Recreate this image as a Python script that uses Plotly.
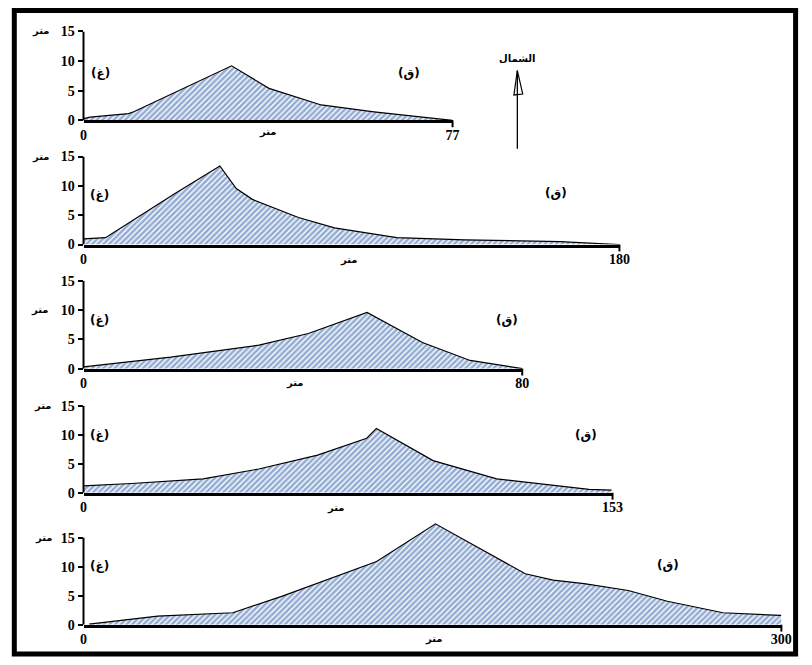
import plotly.graph_objects as go

W, H = 812, 665

# ---------------- data ----------------
p1_x = [0, 1.4, 9.4, 10.6, 30.9, 38.7, 49.6, 60.6, 77]
p1_y = [0.3, 0.55, 1.15, 1.5, 9.2, 5.4, 2.6, 1.45, 0]

p2_x = [0, 7.4, 31, 45.8, 51.3, 56.7, 72.2, 84.3, 105.2, 128, 160, 180]
p2_y = [0.95, 1.17, 8.8, 13.4, 9.55, 7.7, 4.6, 2.83, 1.17, 0.8, 0.5, 0]

p3_x = [0, 15.9, 32, 41, 51.7, 61.8, 70.5, 80]
p3_y = [0.3, 1.95, 4.0, 6.0, 9.6, 4.45, 1.4, 0]

p4_x = [0, 13.9, 34.6, 50.7, 67.7, 81.9, 84.7, 101.1, 119.5, 146.2, 152.7]
p4_y = [1.2, 1.6, 2.4, 4.1, 6.5, 9.4, 11.1, 5.55, 2.4, 0.6, 0.45]

p5_x = [2.4, 31.9, 64.2, 85.2, 126, 151.3, 189.9, 201.9, 215.2, 234.2, 251, 274.9, 299.5, 300]
p5_y = [0.1, 1.5, 2.07, 4.9, 10.9, 17.4, 8.8, 7.7, 7.1, 5.9, 4.05, 2.07, 1.6, 1.6]

profiles_x = [p1_x, p2_x, p3_x, p4_x, p5_x]
profiles_y = [p1_y, p2_y, p3_y, p4_y, p5_y]
xmax_values = [77, 180, 80, 153, 300]
ytick_values = [0, 5, 10, 15]
unit_tick = [15, 15, 10, 15, 15]       # y tick beside which "متر" is written

west_label = "(غ)"
east_label = "(ق)"
unit_label = "متر"
north_label = "الشمال"

# ---------------- layout geometry (pixels) ----------------
panel_geom = [
    dict(x1=457, base=116, top15=25, yr=15, unit_dx=-43, xt_dy=-12, xt_dx=0),
    dict(x1=627, base=243, top15=153, yr=15, unit_dx=-43, xt_dy=-15, xt_dx=-2),
    dict(x1=528, base=370, top15=280, yr=15, unit_dx=-44, xt_dy=-14, xt_dx=-8),
    dict(x1=620, base=497, top15=408, yr=15, unit_dx=-41, xt_dy=-15, xt_dx=-12),
    dict(x1=792, base=632, top15=543, yr=18, unit_dx=-40, xt_dy=-14, xt_dx=2),
]
west_pos = [(98, 68), (97, 192), (97, 320), (97, 438), (97, 572)]
east_pos = [(413, 68), (562, 190), (512, 320), (593, 438), (677, 571)]
X0 = 81


def fx(px):
    return px / W


def fy(py):
    return 1 - py / H


num_font = dict(family="Liberation Serif", size=14, color="black", weight="bold")
ar_font = dict(family="DejaVu Sans", size=10, color="black", weight="bold")
lab_font = dict(family="DejaVu Sans", size=12, color="black", weight="bold")

fig = go.Figure()
shapes = []
annotations = []

for i in range(5):
    g = panel_geom[i]
    n = "" if i == 0 else str(i + 1)
    pxu = (g["base"] - g["top15"]) / 15.0
    ytop = g["base"] - g["yr"] * pxu
    fig.add_trace(go.Scatter(
        x=profiles_x[i], y=profiles_y[i], mode="lines",
        line=dict(color="black", width=1.2),
        fill="tozeroy",
        fillpattern=dict(shape="/", fgcolor="#275aa8", bgcolor="white",
                         size=4, solidity=0.65),
        xaxis="x" + n, yaxis="y" + n, showlegend=False, hoverinfo="skip",
    ))
    fig.layout["xaxis" + n] = dict(
        domain=[fx(X0), fx(g["x1"])], range=[0, xmax_values[i]],
        anchor="y" + n, tickvals=[0, xmax_values[i]],
        ticktext=["0", str(xmax_values[i])], ticks="",
        showline=True, linewidth=2.5, linecolor="black",
        showgrid=False, zeroline=False, tickfont=num_font, fixedrange=True,
    )
    fig.layout["yaxis" + n] = dict(
        domain=[fy(g["base"]), fy(ytop)], range=[0, g["yr"]],
        anchor="x" + n, tickvals=ytick_values, ticks="outside",
        ticklen=5, tickwidth=2, tickcolor="black", showline=False,
        showgrid=False, zeroline=False, tickfont=num_font, fixedrange=True,
    )
    shapes.append(dict(type="line", xref="x" + n + " domain", yref="y" + n,
                       x0=0, x1=0, y0=0, y1=15,
                       line=dict(color="black", width=2)))
    dom_h = g["base"] - ytop
    shapes.append(dict(type="line", xref="x" + n + " domain", yref="y" + n + " domain",
                       x0=1, x1=1, y0=0, y1=-7.0 / dom_h,
                       line=dict(color="black", width=2)))
    annotations.append(dict(text=unit_label, xref="x" + n + " domain", yref="y" + n,
                            x=0, y=unit_tick[i], xshift=g["unit_dx"], showarrow=False,
                            xanchor="center", yanchor="middle", font=ar_font))
    annotations.append(dict(text=unit_label, xref="x" + n + " domain", yref="y" + n + " domain",
                            x=0.5, y=0, xshift=g["xt_dx"], yshift=g["xt_dy"], showarrow=False,
                            xanchor="center", yanchor="middle", font=ar_font))
    annotations.append(dict(text=west_label, xref="paper", yref="paper",
                            x=fx(west_pos[i][0]), y=fy(west_pos[i][1]), showarrow=False,
                            xanchor="center", yanchor="middle", font=lab_font))
    annotations.append(dict(text=east_label, xref="paper", yref="paper",
                            x=fx(east_pos[i][0]), y=fy(east_pos[i][1]), showarrow=False,
                            xanchor="center", yanchor="middle", font=lab_font))

# north arrow
shapes.append(dict(type="line", xref="paper", yref="paper",
                   x0=fx(523), x1=fx(523), y0=fy(65), y1=fy(145),
                   line=dict(color="black", width=1.3)))
shapes.append(dict(type="path", xref="paper", yref="paper",
                   path="M {:.5f},{:.5f} L {:.5f},{:.5f} L {:.5f},{:.5f} Z".format(
                       fx(523), fy(65), fx(528.5), fy(89), fx(519.5), fy(90)),
                   line=dict(color="black", width=1.2)))
annotations.append(dict(text=north_label, xref="paper", yref="paper",
                        x=fx(523), y=fy(53), showarrow=False,
                        xanchor="center", yanchor="middle", font=ar_font))

# outer frame
shapes.append(dict(type="rect", xref="paper", yref="paper",
                   x0=fx(10.5), x1=fx(806.5), y0=fy(662), y1=fy(3.5),
                   line=dict(color="black", width=5)))

fig.update_layout(
    width=W, height=H, autosize=False,
    margin=dict(l=0, r=0, t=0, b=0),
    paper_bgcolor="white", plot_bgcolor="white",
    shapes=shapes, annotations=annotations, showlegend=False,
)

fig.write_html("out.html",
               config={"displayModeBar": False},
               post_script="document.body.style.margin='0';"
                           "document.documentElement.style.overflow='hidden';"
                           "document.body.style.overflow='hidden';"
                           "var d=document.getElementById('{plot_id}');"
                           "d.style.position='fixed';d.style.left='0px';d.style.top='0px';")
